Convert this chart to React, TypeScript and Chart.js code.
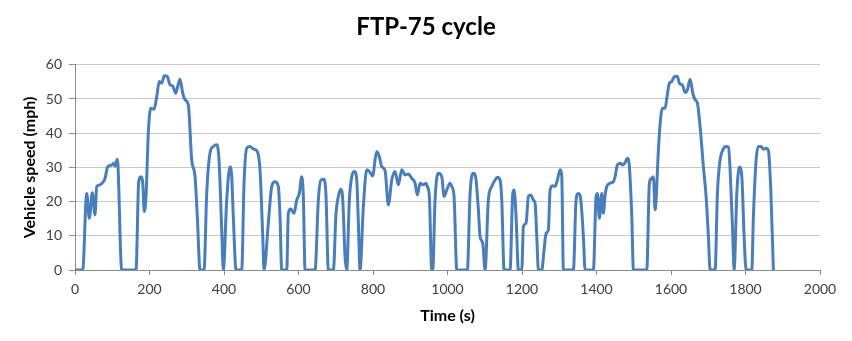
import React, { useEffect, useRef } from "react";
import { Chart, registerables } from "chart.js";

Chart.register(...registerables);

const TITLE = "FTP-75 cycle";
const X_TITLE = "Time (s)";
const Y_TITLE = "Vehicle speed (mph)";

const times = [
  0, 20.7, 31.4, 38.4, 46.5, 53.7, 58.3, 67.1, 76, 80.6, 87.8, 98.5, 104.7, 107.4, 113.6, 125.4,
  163.8, 171, 176.4, 181.8, 186, 190.6, 196.8, 203.3, 212.1, 219.4, 226.3, 232.8, 239.8, 247.8,
  255.1, 262.3, 270.4, 274.7, 281.9, 289.2, 295.4, 304.2, 313.3, 322.2, 328.4, 335.6,
  346.4, 353.6, 362.5, 371.3, 380.5, 386.6, 393.9, 398.2,
  407.3, 416.2, 420.7, 425, 432.3,
  447.6, 453.8, 461, 469.9, 478.7, 489.5, 496.7, 504, 507.5,
  519, 528.1, 537, 545.9, 550.4, 555,
  568.4, 572.7, 579.1, 588, 595.3, 602.2, 608.7, 613, 617.6,
  644.4, 653.3, 660.5, 668.6, 673.9, 680.1,
  693.6, 700.8, 707, 713.4, 718.8, 725, 729.5,
  736.5, 743, 750, 756.4, 760.7, 765.2,
  774.1, 783.2, 790.2, 799.3, 805.5, 810.1, 817, 823.5, 832.4, 841.2, 850.3, 859.2, 868.1, 877.2,
  886.1, 894.9, 904, 912.9, 919.1, 926.3, 935.2, 942.4, 946, 951.3, 957.7,
  960.4, 966.6, 975.4, 984.6, 990.8, 998, 1006.9, 1011.4, 1017.6, 1024.9,
  1053.3, 1060.6, 1069.5, 1076.7, 1082.9, 1087.4, 1094.7, 1100.9,
  1109.7, 1118.8, 1127.7, 1133.9, 1141.1, 1145.7, 1151.9,
  1168, 1175.2, 1178.7, 1184.1, 1190.3,
  1199.4, 1203.7, 1210.9, 1217.1, 1223.6, 1230.5, 1235.1, 1239.7, 1244,
  1253.1, 1259.3, 1264.6, 1270.8, 1275.4, 1282.6, 1288.8, 1295, 1302.2, 1306.8, 1311.1,
  1338, 1345.2, 1351.4, 1357.8, 1364.8, 1369.4,
  1391.7, 1398.9, 1402.5, 1407.8, 1414.2, 1418.5, 1423.1, 1427.6, 1436.5, 1445.3, 1449.9,
  1456.1, 1463.3, 1470.6, 1476.8, 1483, 1488.3, 1494.7, 1499.1,
  1535, 1542, 1548.4, 1552.7, 1557.3, 1560, 1566.2, 1572.6, 1577, 1584.2, 1588.7, 1595.7,
  1602.1, 1609.1, 1617.2, 1622.6, 1630.6, 1637.9, 1644.1, 1651.3, 1658.5, 1664.7, 1670.9,
  1678.1, 1687, 1694.2, 1700.4, 1705,
  1718.4, 1724.6, 1731.8, 1739.1, 1747.9, 1754.1, 1758.7, 1765.9, 1769.4,
  1776.7, 1783.6, 1790.1, 1796.3, 1801.6,
  1816.9, 1821.2, 1828.5, 1834.6, 1841.9, 1848.1, 1855.3, 1861.5, 1867.9, 1874.9,
];

const speeds = [
  0, 0, 22.4, 15.1, 22.6, 16.1, 24.4, 24.9, 25.8, 26.8, 30.2, 30.7, 31.2, 30.4, 32.4, 0,
  0, 25.8, 27.3, 25.4, 17.1, 21.5, 40, 47.3, 47, 50.7, 55.1, 54.6, 56.8, 56.6,
  54.1, 53.8, 51.7, 53.2, 55.8, 51.7, 49.8, 48.3, 32.2, 27.3, 15.6, 0,
  0, 22.4, 34.2, 36.1, 36.6, 32.2, 11.7, 0,
  20.5, 30.2, 27.3, 15.6, 0,
  0, 25.4, 35.6, 36.1, 35.4, 34.6, 29.3, 9.8, 0,
  13.7, 24.4, 25.8, 24.4, 15.6, 0,
  0, 16.6, 17.8, 16.6, 20.5, 22.4, 27.3, 21.5, 0,
  0, 20.5, 26.3, 26.5, 21.5, 0,
  0, 16.6, 21.5, 23.6, 20.5, 3.9, 0,
  20.5, 27.3, 28.8, 26.3, 13.7, 0,
  18.5, 29.3, 28.8, 27.5, 32.2, 34.6, 33.2, 30.2, 29.1, 19, 26.3, 28.8, 24.9, 29.3,
  27.8, 28.1, 26.8, 25.4, 21.9, 25.4, 24.9, 25.4, 24.4, 21.5, 0,
  0, 20.5, 28.3, 27.3, 21.5, 23.4, 25.4, 24.4, 21.5, 0,
  0, 22.4, 28.3, 26.3, 17.6, 9.8, 7.8, 0,
  20.5, 24.4, 26.3, 27.1, 26.3, 20.5, 0,
  0, 22.4, 23.4, 15.6, 0,
  0, 12.7, 13.7, 21.5, 21.9, 20.5, 19.5, 9.8, 0,
  0, 5.9, 10.7, 11.7, 23.4, 24.6, 24.4, 26.3, 29.3, 27.3, 0,
  0, 20.5, 22.4, 20.5, 9.8, 0,
  0, 21.5, 22.4, 15.1, 22.4, 16.6, 21.9, 24.4, 25.4, 25.8, 27.3,
  30.7, 31.2, 30.7, 31.4, 32.7, 30.2, 15.6, 0,
  0, 25.4, 26.8, 27.3, 17.6, 20.5, 35.1, 44.9, 47.3, 47.3, 50.2, 54.6,
  55.1, 56.6, 56.6, 54.6, 54.1, 51.9, 52.7, 55.8, 51.7, 49.8, 48.8,
  41.9, 30.2, 21.5, 9.8, 0,
  0, 22.4, 32.2, 35.1, 36.1, 35.9, 29.3, 9.8, 0,
  22.4, 30.1, 27.3, 9.8, 0,
  0, 15.6, 32.2, 36.1, 36.1, 35.3, 35.6, 34.9, 23.4, 0,
];

const X_MIN = 0;
const X_MAX = 2000;
const X_STEP = 200;
const Y_MIN = 0;
const Y_MAX = 60;
const Y_STEP = 10;

const FONT = "Lato, 'Open Sans', sans-serif";

export default function App() {
  const canvasRef = useRef<HTMLCanvasElement | null>(null);

  useEffect(() => {
    const canvas = canvasRef.current;
    if (!canvas) return;
    const points = times.map((t, i) => ({ x: t, y: speeds[i] }));
    const chart = new Chart(canvas, {
      type: "line",
      data: {
        datasets: [
          {
            data: points,
            borderColor: "#4a7ebb",
            borderWidth: 3,
            pointRadius: 0,
            fill: false,
            cubicInterpolationMode: "monotone",
            yAxisID: "y",
          },
        ],
      },
      options: {
        responsive: false,
        animation: false,
        layout: { padding: { left: 0, right: 0, top: 0, bottom: 0 } },
        plugins: {
          legend: { display: false },
          tooltip: { enabled: false },
          title: {
            display: true,
            text: TITLE,
            color: "#000000",
            font: { family: FONT, size: 24, weight: "bold", lineHeight: 1.2 },
            padding: { top: 13, bottom: 23 },
          },
        },
        scales: {
          x: {
            type: "linear",
            min: X_MIN,
            max: X_MAX,
            afterFit: (scale: any) => {
              scale.height = 71;
            },
            ticks: {
              stepSize: X_STEP,
              color: "#404040",
              font: { family: FONT, size: 14 },
              padding: 6,
              maxRotation: 0,
              callback: (v: any) => String(v),
            },
            grid: {
              drawOnChartArea: false,
              drawTicks: true,
              tickLength: 5,
              tickColor: "#8c8c8c",
            },
            border: { display: true, color: "#8c8c8c", width: 1 },
            title: {
              display: true,
              text: X_TITLE,
              color: "#000000",
              font: { family: FONT, size: 16, weight: "bold", lineHeight: 1.2 },
              padding: { top: 0, bottom: 16 },
            },
          },
          y: {
            type: "linear",
            position: "left",
            min: Y_MIN,
            max: Y_MAX,
            afterFit: (scale: any) => {
              scale.width = 75;
            },
            ticks: {
              stepSize: Y_STEP,
              color: "#404040",
              font: { family: FONT, size: 14 },
              padding: 7,
            },
            grid: {
              color: "#c8c8c8",
              lineWidth: 1,
              drawTicks: true,
              tickLength: 6,
              tickColor: "#8c8c8c",
            },
            border: { display: true, color: "#8c8c8c", width: 1 },
            title: {
              display: true,
              text: Y_TITLE,
              color: "#000000",
              font: { family: FONT, size: 16, weight: "bold", lineHeight: 1.2 },
              padding: { top: 20, bottom: 0 },
            },
          },
          spacer: {
            type: "linear",
            position: "right",
            min: Y_MIN,
            max: Y_MAX,
            afterFit: (scale: any) => {
              scale.width = 32;
            },
            ticks: { display: false },
            grid: { display: false, drawOnChartArea: false, drawTicks: false },
            border: { display: false },
          },
        },
      },
    });
    return () => chart.destroy();
  }, []);

  return (
    <div style={{ position: "absolute", left: 0, top: 0, width: 852, height: 341, background: "#ffffff" }}>
      <canvas ref={canvasRef} width={852} height={341} style={{ width: 852, height: 341, display: "block" }} />
    </div>
  );
}
